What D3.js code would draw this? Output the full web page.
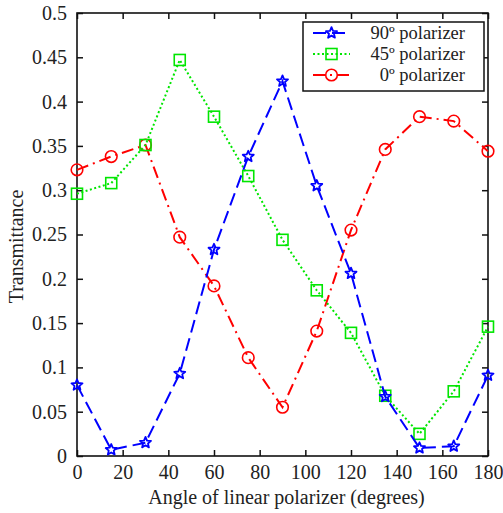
<!DOCTYPE html>
<html>
<head>
<meta charset="utf-8">
<script src="https://cdn.jsdelivr.net/npm/d3@7"></script>
<style>
  html, body { margin: 0; padding: 0; background: #fff; }
  svg { display: block; }
</style>
</head>
<body>
<svg id="chart" width="503" height="513"></svg>
<script>
// Polarizer angles (degrees)
const angles = [0, 15, 30, 45, 60, 75, 90, 105, 120, 135, 150, 165, 180];

// Transmittance measured behind each analyser
const pol90 = [0.080, 0.007, 0.015, 0.093, 0.233, 0.338, 0.423, 0.305, 0.206, 0.067, 0.009, 0.011, 0.091];
const pol45 = [0.296, 0.308, 0.351, 0.447, 0.383, 0.316, 0.244, 0.187, 0.139, 0.068, 0.025, 0.073, 0.146];
const pol0  = [0.323, 0.338, 0.351, 0.247, 0.192, 0.111, 0.055, 0.141, 0.255, 0.346, 0.383, 0.378, 0.344];

const seriesNames = ["90º polarizer", "45º polarizer", "0º polarizer"];
const xTicks = [0, 20, 40, 60, 80, 100, 120, 140, 160, 180];
const yTicks = [0, 0.05, 0.1, 0.15, 0.2, 0.25, 0.3, 0.35, 0.4, 0.45, 0.5];

const xTitle = "Angle of linear polarizer (degrees)";
const yTitle = "Transmittance";

const margin = { left: 77, right: 15, top: 13, bottom: 57 };
const W = 503, H = 513;
const svg = d3.select("#chart");

const x = d3.scaleLinear().domain([0, 180]).range([margin.left, W - margin.right]);
const y = d3.scaleLinear().domain([0, 0.5]).range([H - margin.bottom, margin.top]);

const series = [
  { name: seriesNames[0], values: pol90, color: "#0000ff", dash: "13,6", marker: "star" },
  { name: seriesNames[1], values: pol45, color: "#00e600", dash: "2,2.5", marker: "square" },
  { name: seriesNames[2], values: pol0,  color: "#ff0000", dash: "12,5,2,5", marker: "circle" }
];

const tickLen = 6;
const fontSize = 20;
const serif = '"Liberation Serif"';
const ink = "#222";

// Axes: labels outside, ticks drawn inward on all four sides
const xAxis = svg.append("g")
  .attr("transform", `translate(0,${y(0)})`)
  .call(d3.axisBottom(x).tickValues(xTicks).tickSize(-tickLen).tickPadding(tickLen + 3).tickFormat(d3.format("d")));
const yAxis = svg.append("g")
  .attr("transform", `translate(${x(0)},0)`)
  .call(d3.axisLeft(y).tickValues(yTicks).tickSize(-tickLen).tickPadding(tickLen + 4).tickFormat(d => String(+d.toFixed(2))));
const xTop = svg.append("g")
  .attr("transform", `translate(0,${y(0.5)})`)
  .call(d3.axisTop(x).tickValues(xTicks).tickSize(-tickLen).tickFormat(""));
const yRight = svg.append("g")
  .attr("transform", `translate(${x(180)},0)`)
  .call(d3.axisRight(y).tickValues(yTicks).tickSize(-tickLen).tickFormat(""));

[xAxis, yAxis, xTop, yRight].forEach(g => {
  g.select(".domain").remove();
  g.selectAll("line").attr("stroke", "#111").attr("stroke-width", 1.5);
  g.selectAll("text").style("font-family", serif).style("font-size", fontSize + "px").attr("fill", ink);
});

// Frame
svg.append("rect")
  .attr("x", x(0)).attr("y", y(0.5))
  .attr("width", x(180) - x(0)).attr("height", y(0) - y(0.5))
  .attr("fill", "none").attr("stroke", "#111").attr("stroke-width", 1.6);

// Marker shapes
const starPath = (r) => {
  const pts = [];
  for (let i = 0; i < 10; i++) {
    const rr = i % 2 === 0 ? r : r * 0.45;
    const a = -Math.PI / 2 + i * Math.PI / 5;
    pts.push([rr * Math.cos(a), rr * Math.sin(a)]);
  }
  return "M" + pts.map(p => p.join(",")).join("L") + "Z";
};

function drawMarker(g, kind, color) {
  if (kind === "star") {
    g.append("path").attr("d", starPath(5.8)).attr("fill", "none").attr("stroke", color)
      .attr("stroke-width", 1.8).attr("stroke-linejoin", "round");
  } else if (kind === "square") {
    g.append("rect").attr("x", -5.5).attr("y", -5.5).attr("width", 11).attr("height", 11)
      .attr("fill", "none").attr("stroke", color).attr("stroke-width", 1.6);
  } else {
    g.append("circle").attr("r", 5.8).attr("fill", "none").attr("stroke", color).attr("stroke-width", 1.6);
  }
}

const line = d3.line().x((d, i) => x(angles[i])).y(d => y(d));

// Draw 0º first so 90º sits on top
[...series].reverse().forEach(s => {
  const g = svg.append("g");
  g.append("path").attr("d", line(s.values))
    .attr("fill", "none").attr("stroke", s.color).attr("stroke-width", 2)
    .attr("stroke-dasharray", s.dash);
  s.values.forEach((v, i) => {
    const m = g.append("g").attr("transform", `translate(${x(angles[i])},${y(v)})`);
    drawMarker(m, s.marker, s.color);
  });
});

// Legend
const lg = svg.append("g");
const lx = 303, ly = 22, lw = 181, lh = 69;
lg.append("rect").attr("x", lx).attr("y", ly).attr("width", lw).attr("height", lh)
  .attr("fill", "#fff").attr("stroke", "#111").attr("stroke-width", 1.5);
series.forEach((s, i) => {
  const cy = 33 + i * 21;
  lg.append("line").attr("x1", 313).attr("x2", 350).attr("y1", cy).attr("y2", cy)
    .attr("stroke", s.color).attr("stroke-width", 2.2).attr("stroke-dasharray", s.dash);
  const m = lg.append("g").attr("transform", `translate(331.5,${cy})`);
  drawMarker(m, s.marker, s.color);
  lg.append("text").attr("x", 465).attr("y", cy).attr("dy", "0.33em")
    .attr("text-anchor", "end").attr("fill", ink)
    .style("font-family", serif).style("font-size", "18.5px").text(s.name);
});

// Axis titles
svg.append("text")
  .style("font-family", serif).style("font-size", fontSize + "px").attr("fill", ink)
  .attr("x", (x(0) + x(180)) / 2 + 4).attr("y", 504)
  .attr("text-anchor", "middle").text(xTitle);
svg.append("text")
  .style("font-family", serif).style("font-size", fontSize + "px").attr("fill", ink)
  .attr("transform", `translate(23,${(y(0) + y(0.5)) / 2 + 12}) rotate(-90)`)
  .attr("text-anchor", "middle").text(yTitle);
</script>
</body>
</html>
